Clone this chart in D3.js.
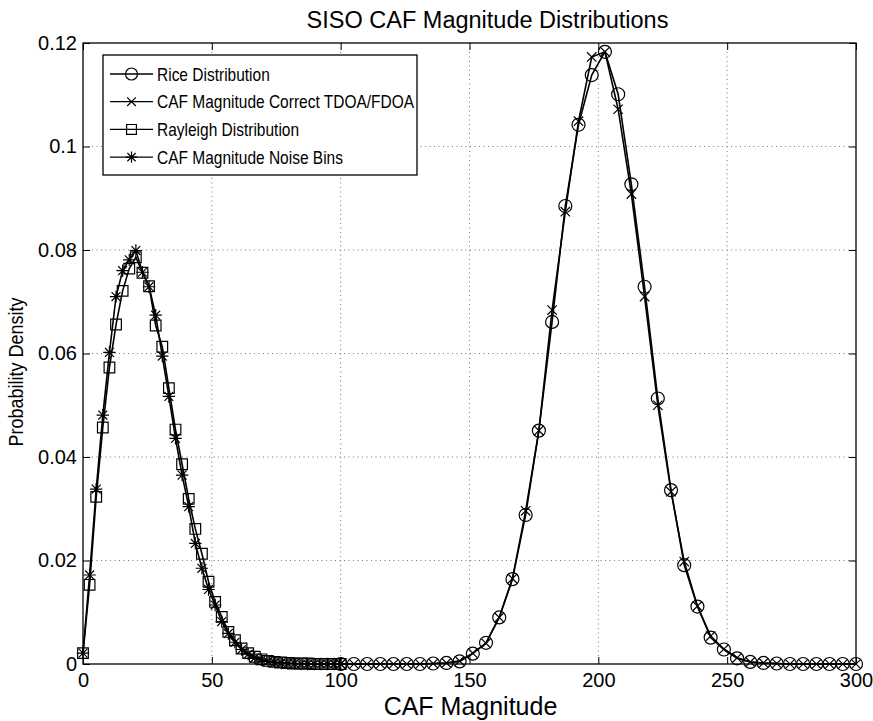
<!DOCTYPE html>
<html><head><meta charset="utf-8">
<script src="https://cdn.jsdelivr.net/npm/d3@7"></script>
<style>body{margin:0;background:#fff}text{font-family:"Liberation Sans",Arial,Helvetica,sans-serif;fill:#000}</style>
</head><body><svg id="c" width="873" height="721"></svg>
<script>
const riceX = [100,105.13,110.26,115.38,120.51,125.64,130.77,135.90,141.03,146.15,151.28,156.41,161.54,166.67,171.79,176.92,182.05,187.18,192.31,197.44,202.56,207.69,212.82,217.95,223.08,228.21,233.33,238.46,243.59,248.72,253.85,258.97,264.10,269.23,274.36,279.49,284.62,289.74,294.87,300];
const riceY = [0,0,0,0,0,0,0,0.0001,0.0002,0.0005,0.0020,0.0041,0.0090,0.0164,0.0288,0.0451,0.0661,0.0885,0.1042,0.1138,0.1183,0.1101,0.0927,0.0729,0.0513,0.0336,0.0191,0.0111,0.0051,0.0028,0.0011,0.0004,0.0002,0.0001,0,0,0,0,0,0];
const correctY = [0,0,0,0,0,0,0,0.0001,0.0002,0.0006,0.0021,0.0040,0.0090,0.0165,0.0296,0.0451,0.0684,0.0874,0.1049,0.1173,0.1183,0.1072,0.0908,0.0710,0.0500,0.0333,0.0198,0.0112,0.0054,0.0029,0.0012,0.0004,0.0002,0.0001,0,0,0,0,0,0];
const rayX = [0,2.56,5.13,7.69,10.26,12.82,15.38,17.95,20.51,23.08,25.64,28.21,30.77,33.33,35.90,38.46,41.03,43.59,46.15,48.72,51.28,53.85,56.41,58.97,61.54,64.10,66.67,69.23,71.79,74.36,76.92,79.49,82.05,84.62,87.18,89.74,92.31,94.87,97.44,100];
const rayY = [0.0021,0.0153,0.0323,0.0457,0.0573,0.0656,0.0721,0.0764,0.0786,0.0756,0.0730,0.0654,0.0613,0.0533,0.0453,0.0386,0.0319,0.0261,0.0213,0.0159,0.0120,0.0091,0.0062,0.0046,0.0030,0.0021,0.0014,0.0009,0.0006,0.0004,0.0003,0.0002,0.0001,0.0001,0.0001,0,0,0,0,0];
const noiseY = [0.0021,0.0172,0.0338,0.0481,0.0602,0.0710,0.0760,0.0781,0.0799,0.0757,0.0729,0.0674,0.0595,0.0517,0.0436,0.0365,0.0304,0.0233,0.0185,0.0144,0.0114,0.0082,0.0059,0.0042,0.0028,0.0019,0.0012,0.0008,0.0005,0.0003,0.0002,0.0001,0.0001,0,0,0,0,0,0,0];
const xTicks = [0,50,100,150,200,250,300];
const yTicks = [0,0.02,0.04,0.06,0.08,0.1,0.12];
const yTickLabels = ["0","0.02","0.04","0.06","0.08","0.1","0.12"];
const seriesNames = ["Rice Distribution","CAF Magnitude Correct TDOA/FDOA","Rayleigh Distribution","CAF Magnitude Noise Bins"];
const seriesMarkers = ["circle","x","square","star"];

const L=83,R=856,T=43,B=664;
const svg=d3.select("#c");
const x=d3.scaleLinear().domain([0,300]).range([L,R]);
const y=d3.scaleLinear().domain([0,0.12]).range([B,T]);

// grid
const g=svg.append("g");
g.selectAll(".gx").data(xTicks.slice(1,-1)).join("line")
 .attr("x1",d=>x(d)).attr("x2",d=>x(d)).attr("y1",T).attr("y2",B)
 .attr("stroke","#777").attr("stroke-width",1).attr("stroke-dasharray","1,3.5");
g.selectAll(".gy").data(yTicks.slice(1,-1)).join("line")
 .attr("y1",d=>y(d)).attr("y2",d=>y(d)).attr("x1",L).attr("x2",R)
 .attr("stroke","#777").attr("stroke-width",1).attr("stroke-dasharray","1,3.5");

// axes with inward ticks
const tl=7;
svg.append("g").attr("transform",`translate(0,${B})`)
 .call(d3.axisBottom(x).tickValues(xTicks).tickSizeInner(-tl).tickSizeOuter(0))
 .call(s=>{s.select(".domain").remove();s.selectAll("text").style("font-size","20px").attr("dy","0.71em").attr("y",9);});
svg.append("g").attr("transform",`translate(0,${T})`)
 .call(d3.axisTop(x).tickValues(xTicks).tickSizeInner(-tl).tickSizeOuter(0).tickFormat(""))
 .call(s=>s.select(".domain").remove());
svg.append("g").attr("transform",`translate(${L},0)`)
 .call(d3.axisLeft(y).tickValues(yTicks).tickSizeInner(-tl).tickSizeOuter(0).tickFormat((d,i)=>yTickLabels[i]))
 .call(s=>{s.select(".domain").remove();s.selectAll("text").style("font-size","20px").attr("x",-6);});
svg.append("g").attr("transform",`translate(${R},0)`)
 .call(d3.axisRight(y).tickValues(yTicks).tickSizeInner(-tl).tickSizeOuter(0).tickFormat(""))
 .call(s=>s.select(".domain").remove());
svg.selectAll(".tick line").attr("stroke","#000");
svg.append("rect").attr("x",L).attr("y",T).attr("width",R-L).attr("height",B-T)
 .attr("fill","none").attr("stroke","#000").attr("stroke-width",1.3);

function markerPath(type,s){
  if(type==="circle") return d3.symbol().type(d3.symbolCircle).size(Math.PI*s*s)();
  if(type==="x") {const a=s*0.72;return `M${-a},${-a}L${a},${a}M${-a},${a}L${a},${-a}`;}
  if(type==="square") {const a=s*0.82;return `M${-a},${-a}H${a}V${a}H${-a}Z`;}
  if(type==="star") {const a=s*0.95,b=a*0.72;return `M${-a},0H${a}M0,${-a}V${a}M${-b},${-b}L${b},${b}M${-b},${b}L${b},${-b}`;}
}
const series=[
 {xs:riceX,ys:riceY,m:"circle"},
 {xs:riceX,ys:correctY,m:"x"},
 {xs:rayX,ys:rayY,m:"square"},
 {xs:rayX,ys:noiseY,m:"star"}
];
const line=d3.line().x(d=>x(d[0])).y(d=>y(d[1]));
const plot=svg.append("g");
series.forEach(s=>{
  const pts=s.xs.map((v,i)=>[v,s.ys[i]]);
  plot.append("path").attr("d",line(pts)).attr("fill","none").attr("stroke","#000").attr("stroke-width",1.6);
  plot.selectAll(null).data(pts).join("path")
   .attr("transform",d=>`translate(${x(d[0])},${y(d[1])})`)
   .attr("d",markerPath(s.m,6.5)).attr("fill","none").attr("stroke","#000").attr("stroke-width",1.2);
});

// legend
const lg=svg.append("g");
lg.append("rect").attr("x",103).attr("y",55).attr("width",314).attr("height",120)
 .attr("fill","#fff").attr("stroke","#000").attr("stroke-width",1.3);
seriesNames.forEach((n,i)=>{
  const cy=74+i*27.7;
  lg.append("line").attr("x1",110).attr("x2",153).attr("y1",cy).attr("y2",cy).attr("stroke","#000").attr("stroke-width",1.3);
  lg.append("path").attr("transform",`translate(131.5,${cy})`).attr("d",markerPath(seriesMarkers[i],6))
   .attr("fill","none").attr("stroke","#000").attr("stroke-width",1.2);
  lg.append("text").attr("transform",`translate(157,${cy}) scale(1,1.2)`).attr("dy","0.36em").style("font-size","15.5px").text(n);
});

// titles
svg.append("text").attr("x",(L+R)/2+18).attr("y",28).attr("text-anchor","middle").style("font-size","23.5px").text("SISO CAF Magnitude Distributions");
svg.append("text").attr("x",(L+R)/2+1).attr("y",714.5).attr("text-anchor","middle").style("font-size","25px").text("CAF Magnitude");
svg.append("text").attr("transform","translate(23,372) rotate(-90) scale(1,1.15)").attr("text-anchor","middle").style("font-size","18px").text("Probability Density");
</script></body></html>
